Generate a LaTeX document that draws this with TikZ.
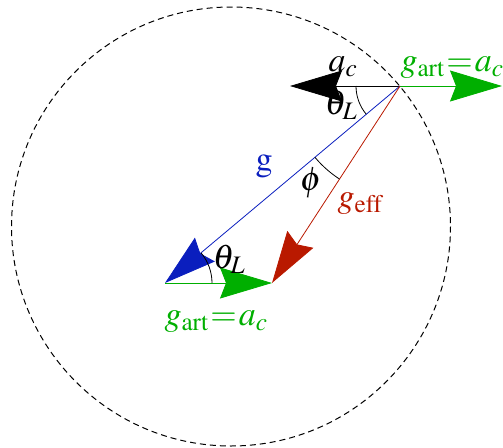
\documentclass[tikz,border=0pt]{standalone}
\usepackage{mathptmx}
\usetikzlibrary{arrows.meta}
\definecolor{gblue}{RGB}{10,30,190}
\definecolor{gred}{RGB}{185,25,0}
\definecolor{ggreen}{RGB}{0,175,0}
\begin{document}
\begin{tikzpicture}[x=1pt,y=-1pt,
  lbl/.style={font=\fontsize{34}{40}\selectfont, inner sep=0pt, anchor=base},
  vec/.style={line width=0.8pt,-{Stealth[length=52pt,width=31pt,inset=6pt]}},
  ang/.style={line width=0.8pt}]
\useasboundingbox (0,0) rectangle (503,447);
\coordinate (O) at (231,226.5);
\coordinate (P) at (400,86);
\coordinate (B) at (165,283);
\coordinate (R) at (272,283);
\coordinate (AC) at (290,86);
\coordinate (GA) at (502,86);
\draw[line width=1pt, dash pattern=on 6pt off 4pt] (O) circle[radius=219.5];
\draw[vec, black] (P) -- (AC);
\draw[vec, ggreen] (P) -- (GA);
\draw[vec, gblue] (P) -- (B);
\draw[vec, gred] (P) -- (R);
\draw[vec, ggreen] (B) -- (R);
\draw[ang] ([shift={(180:44)}]P) arc[start angle=180, end angle=140.03, radius=44];
\draw[ang] ([shift={(140.03:111)}]P) arc[start angle=140.03, end angle=123.02, radius=111];
\draw[ang] ([shift={(0:47)}]B) arc[start angle=0, end angle=-39.97, radius=47];
\node[lbl] (lac) at (343,71) {$a_c$};
\node[lbl] (lth1) at (341,114) {$\theta_L$};
\node[lbl, ggreen] (lga1) at (452,71) {$g_{\mathrm{art}}\mkern1mu{=}\mkern1mu a_c$};
\node[lbl, gblue] (lg) at (264,170) {$\mathrm{g}$};
\node[lbl] (lphi) at (311,190) {$\phi$};
\node[lbl, gred] (lgeff) at (360,207) {$g_{\mathrm{eff}}$};
\node[lbl] (lth2) at (229,268) {$\theta_L$};
\node[lbl, ggreen] (lga2) at (216,325) {$g_{\mathrm{art}}\mkern1mu{=}\mkern1mu a_c$};
\end{tikzpicture}
\end{document}
